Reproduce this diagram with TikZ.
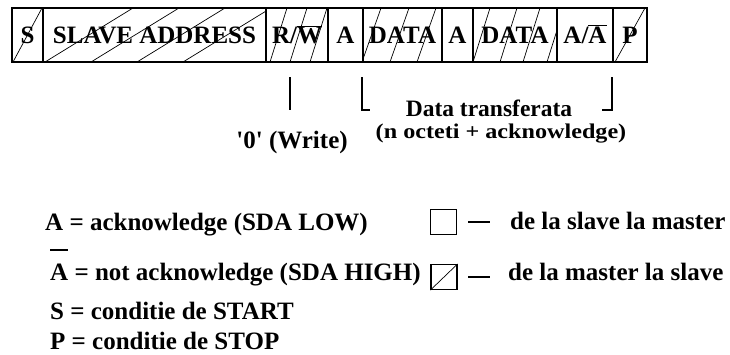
\documentclass[tikz,border=0pt]{standalone}
\usepackage{fontspec}
\usepackage{graphicx}
\setmainfont{Liberation Serif}
\begin{document}
\begin{tikzpicture}[x=1pt,y=-1pt,
  field/.style={draw, line width=1.6pt, minimum height=54pt, inner sep=0pt,
     text height=17pt, text depth=0pt, font=\bfseries\fontsize{25}{25}\selectfont},
  hatch/.style={line width=0.7pt},
  tickmark/.style={line width=2pt},
  big/.style={font=\bfseries\fontsize{25}{28}\selectfont, inner sep=0pt},
  legbox/.style={draw, line width=1.1pt, minimum width=26pt, minimum height=25pt, inner sep=0pt},
  legdash/.style={line width=1.2pt}]
\useasboundingbox (0,0) rectangle (730,354);

% frame fields
\node[field, minimum width=31pt] (fs) at (27.5,35) {S};
\node[field, minimum width=223pt] (fsa) at (154.5,35) {SLAVE ADDRESS};
\node[field, minimum width=62pt] (frw) at (297,35) {R/$\overline{\mbox{W}}$};
\node[field, minimum width=35pt] (fa1) at (345.5,35) {A};
\node[field, minimum width=79pt] (fd1) at (402.5,35) {DATA};
\node[field, minimum width=31pt] (fa2) at (457.5,35) {A};
\node[field, minimum width=84pt] (fd2) at (515,35) {DATA};
\node[field, minimum width=56pt] (fa3) at (585,35) {A/$\overline{\mbox{A}}$};
\node[field, minimum width=34pt] (fp) at (630,35) {P};

% hatching (master -> slave)
\begin{scope}
  \clip (fs.south west) rectangle (fs.north east);
  \draw[hatch] (13,62) -- (42,8);
\end{scope}
\begin{scope}
  \clip (fsa.south west) rectangle (fsa.north east);
  \foreach \b in {45,91,137,183} \draw[hatch] (\b,62) -- (\b+88,8);
\end{scope}
\begin{scope}
  \clip (frw.south west) rectangle (frw.north east);
  \foreach \b in {270,290,310} \draw[hatch] (\b,62) -- (\b+17,8);
\end{scope}
\begin{scope}
  \clip (fd1.south west) rectangle (fd1.north east);
  \foreach \b in {362,390,417} \draw[hatch] (\b,62) -- (\b+19,8);
\end{scope}
\begin{scope}
  \clip (fd2.south west) rectangle (fd2.north east);
  \foreach \b in {473,500,523,547} \draw[hatch] (\b,62) -- (\b+17,8);
\end{scope}
\begin{scope}
  \clip (fp.south west) rectangle (fp.north east);
  \draw[hatch] (615,62) -- (645,8);
\end{scope}

% marks under the frame
\coordinate (rwa) at (290,77); \coordinate (rwb) at (290,110);
\draw[tickmark] (rwa) -- (rwb);
\coordinate (lba) at (362,77); \coordinate (lbb) at (362,110); \coordinate (lbc) at (370,110);
\draw[tickmark] (lba) -- (lbb) -- (lbc);
\coordinate (rba) at (612,77); \coordinate (rbb) at (612,110); \coordinate (rbc) at (602,110);
\draw[tickmark] (rba) -- (rbb) -- (rbc);

\node[big, font=\bfseries\fontsize{23.5}{26}\selectfont] (dt) at (489,108) {Data transferata};
\node[inner sep=0pt, font=\bfseries\fontsize{21}{24}\selectfont] (oct) at (501,134) {\scalebox{1.15}[1]{(n octeti + acknowledge)}};
\node[big] (wr) at (292,142) {\textquotesingle0\textquotesingle{} (Write)};

% legend
\node[big, anchor=base west] (l1) at (45,230) {A = acknowledge (SDA LOW)};
\coordinate (ob1) at (50,250); \coordinate (ob2) at (68,250);
\draw[line width=1.5pt] (ob1) -- (ob2);
\node[big, anchor=base west] (l2) at (50,280) {A = not acknowledge (SDA HIGH)};
\node[big, anchor=base west] (l3) at (50,319) {S = conditie de START};
\node[big, anchor=base west] (l4) at (50,349) {P = conditie de STOP};

\node[legbox] (b1) at (443.5,222) {};
\node[legbox] (b2) at (444,277) {};
\draw[hatch] (b2.south west) -- (b2.north east);
\coordinate (d1a) at (468,222); \coordinate (d1b) at (490,222);
\draw[legdash] (d1a) -- (d1b);
\coordinate (d2a) at (468,277); \coordinate (d2b) at (490,277);
\draw[legdash] (d2a) -- (d2b);
\node[big, anchor=base west] (t1) at (510,229) {de la slave la master};
\node[big, anchor=base west] (t2) at (508,280) {de la master la slave};
\end{tikzpicture}
\end{document}
